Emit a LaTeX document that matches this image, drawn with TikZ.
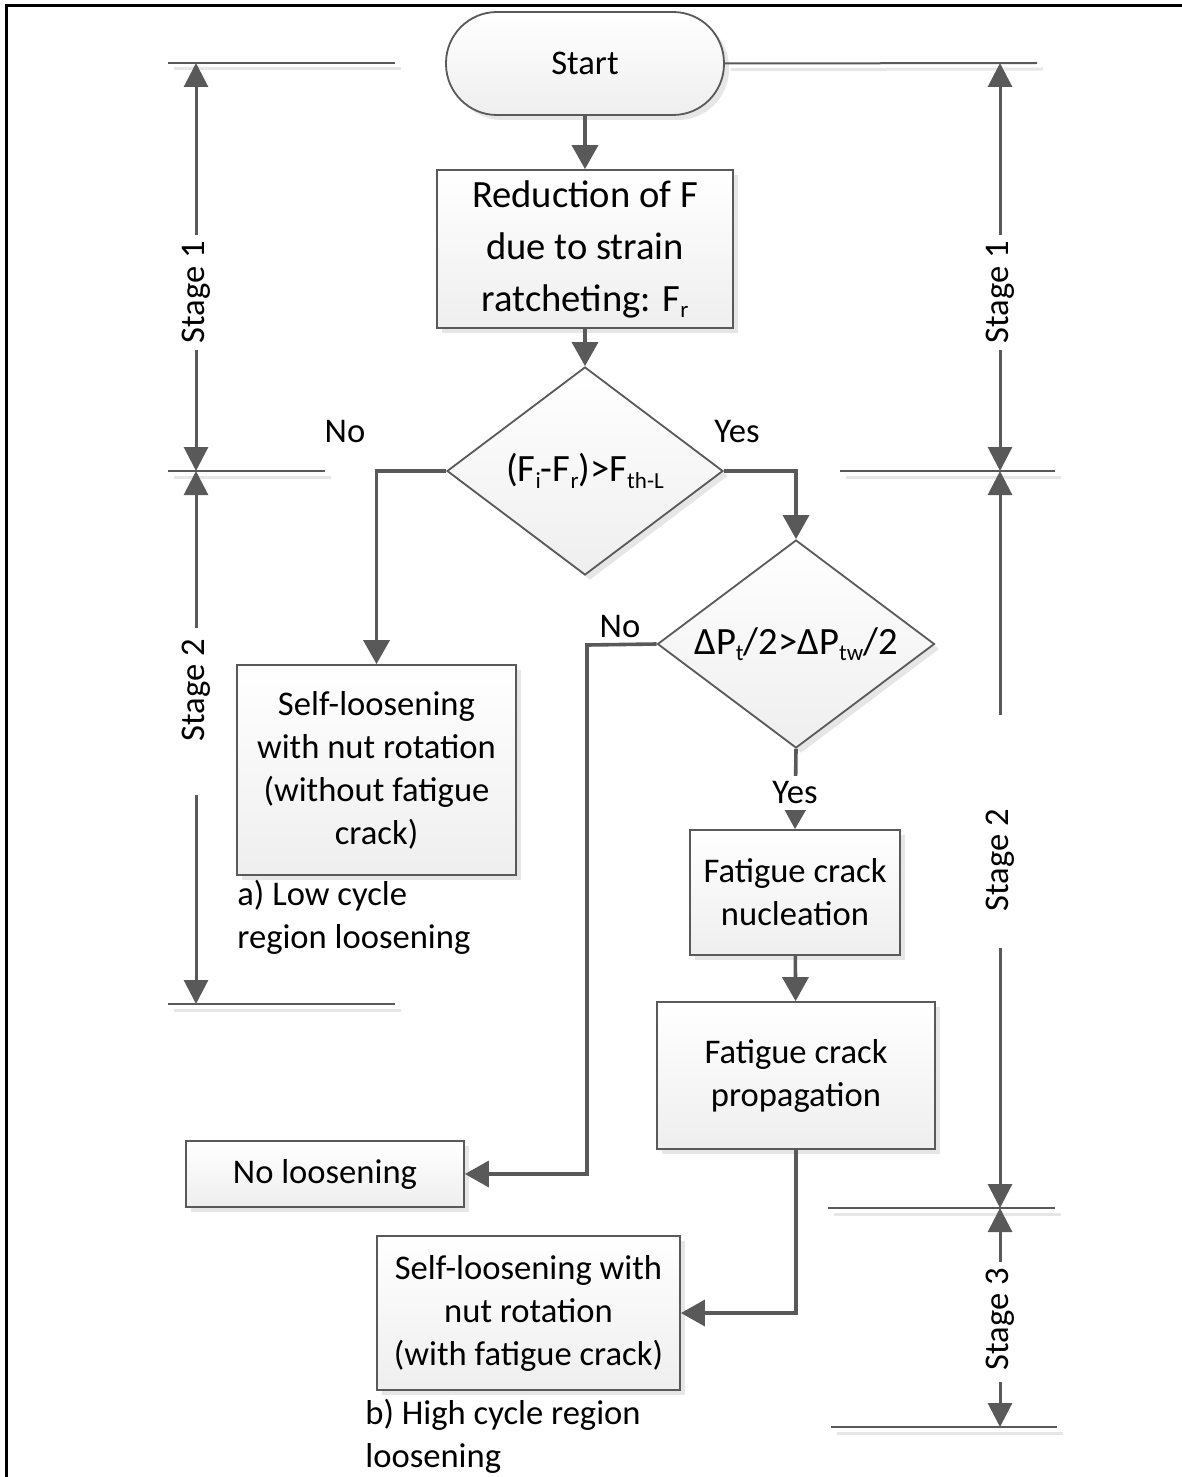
\documentclass[tikz,border=0pt]{standalone}
\usepackage{fontspec}
\setmainfont{Carlito}
\usetikzlibrary{shapes.geometric,shapes.misc,arrows.meta,shadows}
\definecolor{lc}{HTML}{595959}
\definecolor{shd}{HTML}{E6E6E6}
\newcommand\lowsub[1]{\raisebox{-0.35ex}{\fontsize{11.5}{11.5}\selectfont #1}}
\tikzset{
  txt/.style={font=\fontsize{17.3}{21.5}\selectfont, text=black},
  bigtxt/.style={font=\fontsize{19.3}{26}\selectfont},
  boxsty/.style={txt, draw=lc, line width=0.9pt, shading=axis, top color=white, bottom color=gray!13, align=center, inner sep=0pt,
    drop shadow={shadow xshift=2.5pt, shadow yshift=-2.5pt, fill=shd, opacity=1}},
  decsty/.style={boxsty, bigtxt, diamond, shape aspect=1.33},
  conn/.style={draw=lc, line width=1.8pt, -{Triangle[length=12pt,width=13pt]}},
  dimsty/.style={draw=lc, line width=1.5pt, -{Triangle[length=12pt,width=12pt]}},
  bline/.style={draw=lc, line width=1pt},
  bshadow/.style={draw=shd, line width=1.5pt},
  lbl/.style={txt, inner sep=1pt},
  stagelbl/.style={txt, rotate=90, inner sep=0pt}
}
\begin{document}
\begin{tikzpicture}[x=0.5pt,y=-0.5pt]
\useasboundingbox (0,0) rectangle (1182,1477);
% frame
\draw[black, line width=1.5pt] (6.5,1477) -- (6.5,5.5) -- (1182,5.5);

% nodes
\node[boxsty, rectangle, rounded corners=25.5pt, minimum width=139pt, minimum height=51.5pt] (start) at (585,63.5) {Start};
\node[boxsty, bigtxt, rectangle, minimum width=148pt, minimum height=79pt] (red) at (585,249) {Reduction of F\\due to strain\\ratcheting: F\lowsub{r}};
\node[decsty, minimum width=138pt, minimum height=104pt] (d1) at (585,471) {(F\lowsub{i}-F\lowsub{r})>F\lowsub{th-L}};
\node[decsty, minimum width=138.5pt, minimum height=104pt] (d2) at (796,644) {ΔP\lowsub{t}/2>ΔP\lowsub{tw}/2};
\node[boxsty, rectangle, minimum width=139.5pt, minimum height=105pt] (slw) at (376.5,770) {Self-loosening\\with nut rotation\\(without fatigue\\crack)};
\node[boxsty, rectangle, minimum width=105pt, minimum height=62.5pt] (nuc) at (795,892.5) {Fatigue crack\\nucleation};
\node[boxsty, rectangle, minimum width=139pt, minimum height=73.5pt] (prop) at (796,1075.5) {Fatigue crack\\propagation};
\node[boxsty, rectangle, minimum width=139pt, minimum height=33pt] (nol) at (325,1174) {No loosening};
\node[boxsty, rectangle, minimum width=151.5pt, minimum height=77pt] (slf) at (528.5,1313) {Self-loosening with\\nut rotation\\(with fatigue crack)};

% labels
\node[lbl] (no1) at (345,432) {No};
\node[lbl] (yes1) at (737,432) {Yes};
\node[lbl] (no2) at (620,627) {No};
\node[txt, align=left, anchor=west, inner sep=0pt] (la) at (237,917) {a) Low cycle\\region loosening};
\node[txt, align=left, anchor=west, inner sep=0pt] (lb) at (365,1436) {b) High cycle region\\loosening};

% connectors
\draw[conn] (start) -- (red);
\draw[conn] (red) -- (d1);
\draw[conn] (d1.west) -| (slw.north);
\draw[conn] (d1.east) -| (d2.north);
\coordinate (c1) at (587,645);
\draw[conn] (d2.west) -- (c1) |- (nol.east);
\draw[conn] (d2.south) -- (nuc.north);
\node[lbl, fill=white, inner sep=3pt] (yes2) at (795,793) {Yes};
\draw[conn] (nuc) -- (prop);
\draw[conn] (prop.south) |- (slf.east);

% stage boundary lines (with light shadows)
\coordinate (l1a) at (168,63); \coordinate (l1b) at (395,63);
\coordinate (l2a) at (168,471); \coordinate (l2b) at (325,471);
\coordinate (l3a) at (168,1004); \coordinate (l3b) at (395,1004);
\coordinate (r1b) at (1037,63);
\coordinate (r2a) at (840,471); \coordinate (r2b) at (1055,471);
\coordinate (r3a) at (828,1208); \coordinate (r3b) at (1055,1208);
\coordinate (r4a) at (831,1427); \coordinate (r4b) at (1057,1427);
\foreach \a/\b in {l1a/l1b,l2a/l2b,l3a/l3b,r2a/r2b,r3a/r3b,r4a/r4b}{
  \draw[bshadow] ([xshift=3pt,yshift=-3pt]\a) -- ([xshift=3pt,yshift=-3pt]\b);
}
\draw[bshadow] ([yshift=-3pt]start.east) ++(3pt,0) -- ([xshift=3pt,yshift=-3pt]r1b);
\foreach \a/\b in {l1a/l1b,l2a/l2b,l3a/l3b,r2a/r2b,r3a/r3b,r4a/r4b}{
  \draw[bline] (\a) -- (\b);
}
\draw[bline] (start.east) -- (r1b);

% stage dimension arrows - left
\node[stagelbl] (sl1) at (196,292) {Stage 1};
\draw[dimsty] (196,235) -- (196,63);
\draw[dimsty] (196,350) -- (196,471);
\node[stagelbl] (sl2) at (196,690) {Stage 2};
\draw[dimsty] (196,628) -- (196,471);
\draw[dimsty] (196,795) -- (196,1004);
% right
\node[stagelbl] (sr1) at (1000,292) {Stage 1};
\draw[dimsty] (1000,235) -- (1000,63);
\draw[dimsty] (1000,350) -- (1000,471);
\node[stagelbl] (sr2) at (1000,860) {Stage 2};
\draw[dimsty] (1000,715) -- (1000,471);
\draw[dimsty] (1000,948) -- (1000,1208);
\node[stagelbl] (sr3) at (1000,1319) {Stage 3};
\draw[dimsty] (1000,1262) -- (1000,1208);
\draw[dimsty] (1000,1382) -- (1000,1427);
\end{tikzpicture}
\end{document}
